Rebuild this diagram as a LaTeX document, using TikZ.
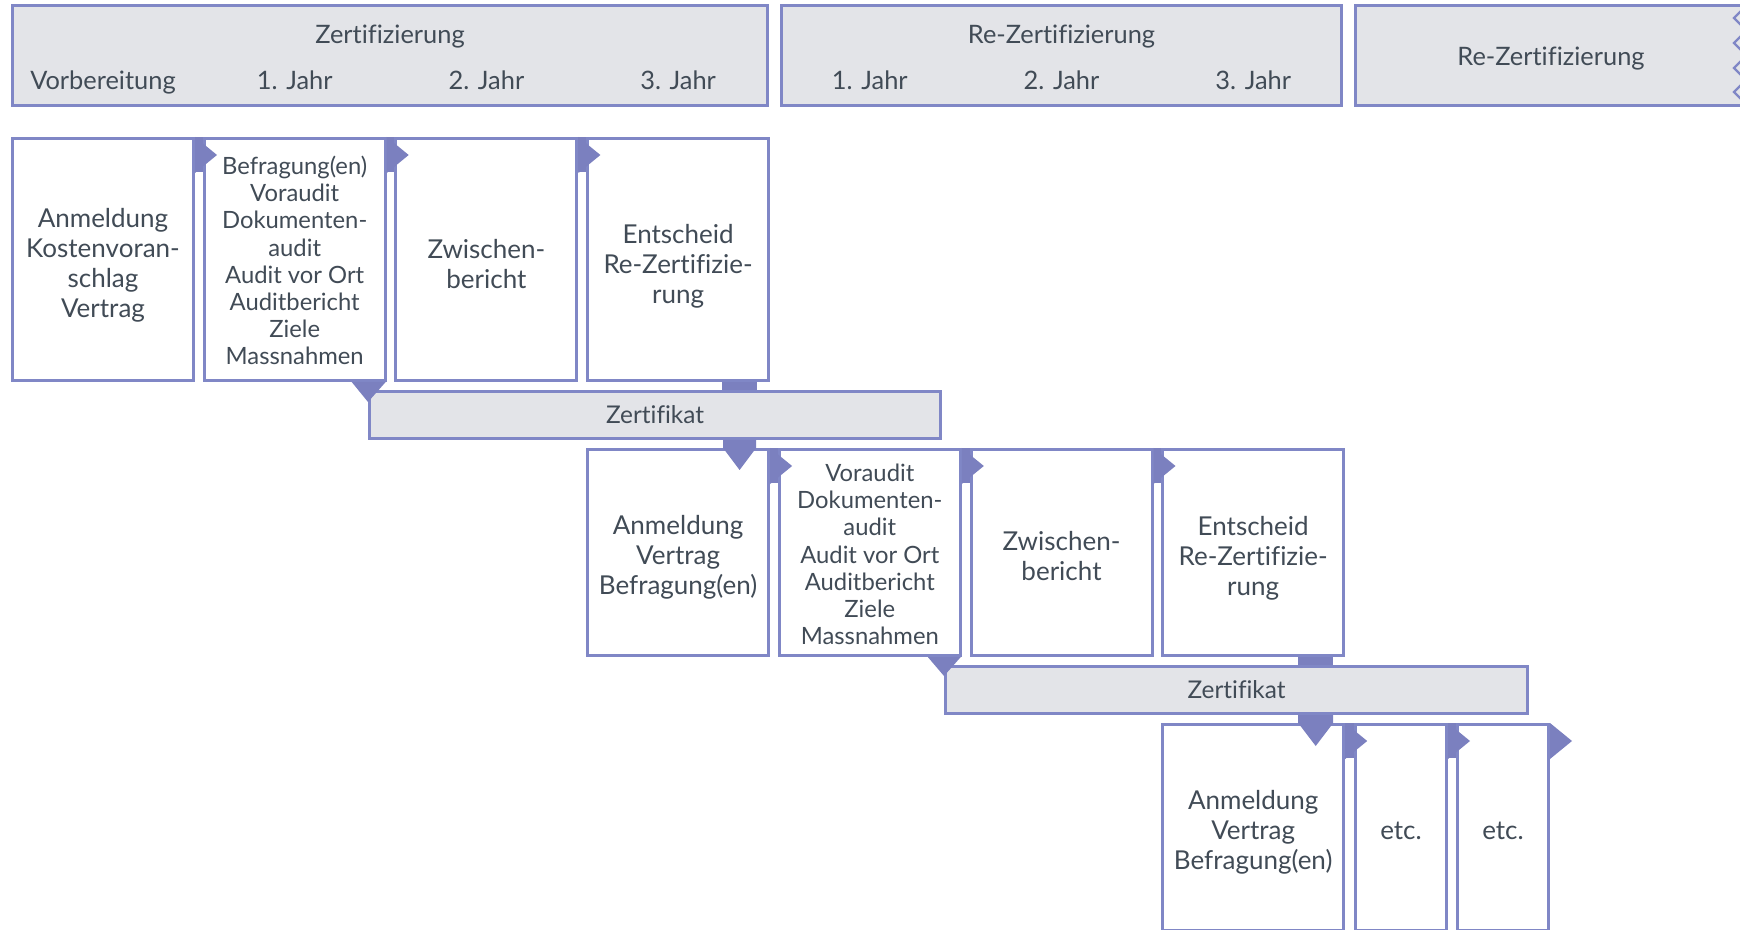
\documentclass[tikz,border=0pt]{standalone}
\usepackage{fontspec}
\setmainfont{Lato}[Ligatures=NoCommon]
\usetikzlibrary{calc}
\definecolor{bord}{HTML}{8087C6}
\definecolor{arrc}{HTML}{7B80BF}
\definecolor{hfill}{HTML}{E3E4E8}
\definecolor{txt}{HTML}{414B56}
\begin{document}
\begin{tikzpicture}[x=0.5pt,y=-0.5pt,
  stage/.style={draw=bord,line width=1.5pt,fill=white,inner sep=0pt,minimum width=90.5pt},
  tx/.style={align=center,text=txt,inner sep=0pt,font=\fontsize{13}{15}\selectfont},
  small/.style={font=\fontsize{11.9}{13.6}\selectfont},
  hbox/.style={draw=bord,line width=1.5pt,fill=hfill,inner sep=0pt},
  lbl/.style={text=txt,font=\fontsize{12.7}{14}\selectfont,inner sep=0pt,text height=1.6ex,text depth=0.4ex},
  arr/.style={fill=arrc},
  chev/.style={draw=bord,line width=1.1pt}]
\useasboundingbox (0,0) rectangle (1740,930);
\clip (0,0) rectangle (1740,930);
% header boxes
\node[hbox,minimum width=377.5pt,minimum height=50pt] (hdr1) at (390,55.5) {};
\node[hbox,minimum width=280pt,minimum height=50pt] (hdr2) at (1061.5,55.5) {};
\node[hbox,minimum width=201.5pt,minimum height=50pt] (hdr3) at (1557,55.5) {};
\foreach \yy in {18,43,68,92}{
  \draw[chev] (1742,\yy-8) -- (1734,\yy) -- (1742,\yy+8);
}
\node[lbl] (t1) at (390,37) {Zertifizierung};
\node[lbl] (t2) at (103,83) {Vorbereitung};
\node[lbl] (t3) at (294.7,83) {1. Jahr};
\node[lbl] (t4) at (486.4,83) {2. Jahr};
\node[lbl] (t5) at (678.1,83) {3. Jahr};
\node[lbl] (t6) at (1061.5,37) {Re-Zertifizierung};
\node[lbl] (t7) at (869.8,83) {1. Jahr};
\node[lbl] (t8) at (1061.5,83) {2. Jahr};
\node[lbl] (t9) at (1253.2,83) {3. Jahr};
\node[lbl] (t10) at (1551,59) {Re-Zertifizierung};
% row 1
\node[stage,minimum height=121pt] (a1) at (103,259.5) {};
\node[stage,minimum height=121pt] (b1) at (294.7,259.5) {};
\node[stage,minimum height=121pt] (c1) at (486.4,259.5) {};
\node[stage,minimum height=121pt] (d1) at (678.1,259.5) {};
\node[tx] (a1t) at ($(a1)+(0,6)$) {Anmeldung\\Kostenvoran-\\schlag\\Vertrag};
\node[tx,small] (b1t) at ($(b1)+(0,1)$) {Befragung(en)\\Voraudit\\Dokumenten-\\audit\\Audit vor Ort\\Auditbericht\\Ziele\\Massnahmen};
\node[tx] (c1t) at ($(c1)+(0,5)$) {Zwischen-\\bericht};
\node[tx] (d1t) at ($(d1)+(0,7)$) {Entscheid\\Re-Zertifizie-\\rung};
% row 2
\node[stage,minimum height=103pt] (e2) at (678.1,552.5) {};
\node[stage,minimum height=103pt] (f2) at (869.8,552.5) {};
\node[stage,minimum height=103pt] (g2) at (1061.5,552.5) {};
\node[stage,minimum height=103pt] (h2) at (1253.2,552.5) {};
\node[tx] (e2t) at ($(e2)+(0,5)$) {Anmeldung\\Vertrag\\Befragung(en)};
\node[tx,small] (f2t) at ($(f2)+(0,2)$) {Voraudit\\Dokumenten-\\audit\\Audit vor Ort\\Auditbericht\\Ziele\\Massnahmen};
\node[tx] (g2t) at ($(g2)+(0,4)$) {Zwischen-\\bericht};
\node[tx] (h2t) at ($(h2)+(0,6)$) {Entscheid\\Re-Zertifizie-\\rung};
% row 3
\node[stage,minimum height=103pt] (i3) at (1253.2,827.5) {};
\node[stage,minimum height=103pt,minimum width=45.5pt] (j3) at (1401,827.5) {};
\node[stage,minimum height=103pt,minimum width=45.5pt] (k3) at (1503,827.5) {};
\node[tx] (i3t) at ($(i3)+(0,5)$) {Anmeldung\\Vertrag\\Befragung(en)};
\node[tx] (j3t) at ($(j3)+(0,3)$) {etc.};
\node[tx] (k3t) at ($(k3)+(0,3)$) {etc.};
% certificate bars
\node[hbox,minimum width=285.5pt,minimum height=23.5pt,text=txt,font=\fontsize{12.2}{14}\selectfont] (zert1) at (655,415) {Zertifikat};
\node[hbox,minimum width=291pt,minimum height=23.5pt,text=txt,font=\fontsize{12.2}{14}\selectfont] (zert2) at (1236.5,690) {Zertifikat};
% right arrows
\foreach \s/\t in {a1/b1,b1/c1,c1/d1,e2/f2,f2/g2,g2/h2,i3/j3,j3/k3}{
  \fill[arr] (\s.north east) rectangle ($(\t.north west)+(0,35)$);
  \fill[arr] (\s.north east) -- ++(22,18) -- ++(-22,18) -- cycle;
}
\fill[arr] (k3.north east) -- ++(22,18) -- ++(-22,18) -- cycle;
% helper coordinates
\coordinate (cd1) at ($(d1.south east)+(-48,0)$);
\coordinate (cd2) at ($(d1.south east)+(-13,0)$);
\coordinate (ch1) at ($(h2.south east)+(-47,0)$);
\coordinate (ch2) at ($(h2.south east)+(-12,0)$);
\coordinate (ce1) at ($(e2.north east)+(-47,0)$);
\coordinate (ce2) at ($(e2.north east)+(-14,0)$);
\coordinate (ci1) at ($(i3.north east)+(-47,0)$);
\coordinate (ci2) at ($(i3.north east)+(-12,0)$);
% connectors into certificate bars
\fill[arr] (cd1) rectangle (cd2 |- zert1.north);
\fill[arr] (ch1) rectangle (ch2 |- zert2.north);
\fill[arr] ($(b1.south east)+(-35,0)$) -- ($(b1.south east)+(-1,0)$) -- ($(zert1.north west)+(0,12)$) -- cycle;
\fill[arr] ($(f2.south east)+(-34,0)$) -- ($(f2.south east)+(-1,0)$) -- ($(zert2.north west)+(0,11)$) -- cycle;
% arrows from certificate bars into next cycle
\fill[arr] (ce1 |- zert1.south) -- (ce2 |- zert1.south) -- (ce2) -- ($(e2.north east)+(-30.5,22)$) -- (ce1) -- cycle;
\fill[arr] (ci1 |- zert2.south) -- (ci2 |- zert2.south) -- (ci2) -- ($(i3.north east)+(-29.5,23)$) -- (ci1) -- cycle;
\end{tikzpicture}
\end{document}
